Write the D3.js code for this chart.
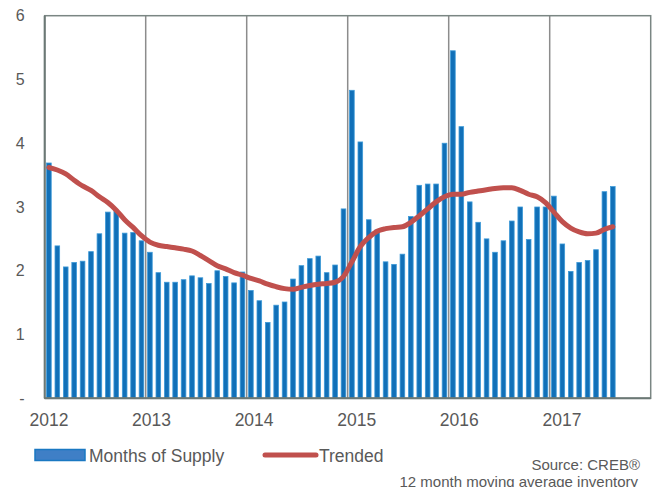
<!DOCTYPE html>
<html lang="en">

<head>
    <meta charset="utf-8">
    <script src="https://d3js.org/d3.v7.min.js"></script>
    <style>
        body {
            margin: 0;
            background: #fff;
            font-family: "Liberation Sans", Arial, sans-serif;
        }

        .axis text {
            fill: #595959;
        }
    </style>
</head>

<body>
    <div id="chart"></div>

    <script>
        // monthly data, Jan 2012 - Aug 2017
        var years = [2012, 2013, 2014, 2015, 2016, 2017];
        var yTicks = [0, 1, 2, 3, 4, 5, 6];

        var supply = [
            3.69, 2.39, 2.06, 2.13, 2.15, 2.30, 2.58, 2.92, 2.95, 2.59, 2.60, 2.47,
            2.29, 1.97, 1.82, 1.82, 1.86, 1.92, 1.89, 1.80, 2.00, 1.91, 1.81, 1.98,
            1.69, 1.53, 1.19, 1.46, 1.51, 1.87, 2.08, 2.19, 2.23, 1.97, 2.09, 2.97,
            4.83, 4.02, 2.80, 2.64, 2.14, 2.10, 2.26, 2.85, 3.34, 3.36, 3.36, 4.00,
            5.45, 4.26, 3.08, 2.76, 2.50, 2.29, 2.47, 2.78, 3.00, 2.49, 3.00, 3.00,
            3.17, 2.42, 1.99, 2.13, 2.16, 2.33, 3.24, 3.32
        ];

        var trended = [
            3.62, 3.58, 3.52, 3.42, 3.33, 3.26, 3.16, 3.07, 2.95, 2.80, 2.68, 2.55,
            2.45, 2.40, 2.38, 2.36, 2.34, 2.31, 2.24, 2.16, 2.08, 2.03, 1.97, 1.93,
            1.88, 1.84, 1.79, 1.75, 1.72, 1.71, 1.74, 1.77, 1.79, 1.80, 1.82, 1.91,
            2.14, 2.38, 2.52, 2.62, 2.66, 2.68, 2.69, 2.76, 2.86, 2.97, 3.08, 3.16,
            3.20, 3.20, 3.23, 3.25, 3.27, 3.29, 3.30, 3.30, 3.26, 3.20, 3.16, 3.07,
            2.92, 2.77, 2.67, 2.61, 2.58, 2.59, 2.65, 2.69
        ];

        var W = 655, H = 487;
        var margin = { top: 15.7, left: 44.7, right: 4.3, bottom: 88.7 },
            width = W - margin.left - margin.right,
            height = H - margin.top - margin.bottom;

        var svg = d3.select("#chart")
            .append("svg")
            .attr("width", W)
            .attr("height", H);

        var g = svg.append("g")
            .attr("transform", "translate(" + margin.left + "," + margin.top + ")");

        // one band per month for the six years shown
        var months = d3.range(years.length * 12);
        var x = d3.scaleBand()
            .domain(months)
            .range([0, width])
            .paddingInner(0.45)
            .paddingOuter(0.225);

        var y = d3.scaleLinear()
            .domain([0, 6])
            .range([height, 0]);

        // Y axis labels
        var yAxis = g.append("g")
            .attr("class", "axis")
            .call(d3.axisLeft(y)
                .tickValues(yTicks)
                .tickSize(0)
                .tickPadding(20)
                .tickFormat(function (d) { return d === 0 ? "-" : d; }));
        yAxis.select(".domain").remove();
        yAxis.selectAll("text")
            .style("font-size", "16px")
            .style("font-family", "'Liberation Sans', Arial, sans-serif");

        // year gridlines
        var yearX = function (i) { return x.step() * 12 * i; };
        g.selectAll(".yearline")
            .data(years.slice(1))
            .enter().append("line")
            .attr("x1", function (d, i) { return yearX(i + 1); })
            .attr("x2", function (d, i) { return yearX(i + 1); })
            .attr("y1", 0)
            .attr("y2", height)
            .attr("stroke", "#8c8c8c")
            .attr("stroke-width", 1.5);

        // bars
        g.selectAll(".bar")
            .data(supply)
            .enter().append("rect")
            .attr("x", function (d, i) { return x(i); })
            .attr("width", x.bandwidth())
            .attr("y", function (d) { return y(d); })
            .attr("height", function (d) { return height - y(d); })
            .attr("fill", "#1170b8")
            .attr("stroke", "#3d9ad8")
            .attr("stroke-width", 0.8);

        // frame
        g.append("rect")
            .attr("width", width)
            .attr("height", height)
            .attr("fill", "none")
            .attr("stroke", "#7a8683")
            .attr("stroke-width", 1.5);
        g.append("line")
            .attr("x1", 0).attr("x2", 0)
            .attr("y1", 0).attr("y2", height)
            .attr("stroke", "#6b7875").attr("stroke-width", 2);
        g.append("line")
            .attr("x1", 0).attr("x2", width)
            .attr("y1", height).attr("y2", height)
            .attr("stroke", "#6b7875").attr("stroke-width", 2);

        // trend line
        g.append("path")
            .datum(trended)
            .attr("fill", "none")
            .attr("stroke", "#c0504d")
            .attr("stroke-width", 5)
            .attr("stroke-linecap", "round")
            .attr("stroke-linejoin", "round")
            .attr("d", d3.line()
                .curve(d3.curveMonotoneX)
                .x(function (d, i) { return x(i) + x.bandwidth() / 2; })
                .y(function (d) { return y(d); }));

        // year labels
        svg.append("g")
            .attr("class", "axis")
            .selectAll("text")
            .data(years)
            .enter().append("text")
            .attr("x", function (d, i) { return margin.left + x(i * 12) + x.bandwidth() / 2 + i * 1.6; })
            .attr("y", 426)
            .attr("text-anchor", "middle")
            .style("font-size", "17.5px")
            .text(function (d) { return d; });

        // legend
        var legend = svg.append("g");
        legend.append("rect")
            .attr("x", 35).attr("y", 449.5)
            .attr("width", 50).attr("height", 11)
            .attr("fill", "#3f7fc6")
            .attr("stroke", "#1a78c2")
            .attr("stroke-width", 1.5);
        legend.append("text")
            .attr("x", 89).attr("y", 461.5)
            .attr("fill", "#595959")
            .style("font-size", "17.5px")
            .text("Months of Supply");
        legend.append("line")
            .attr("x1", 265).attr("x2", 316)
            .attr("y1", 455).attr("y2", 455)
            .attr("stroke", "#c0504d")
            .attr("stroke-width", 5)
            .attr("stroke-linecap", "round");
        legend.append("text")
            .attr("x", 319).attr("y", 461.5)
            .attr("fill", "#595959")
            .style("font-size", "17.5px")
            .text("Trended");

        // source note
        svg.append("text")
            .attr("x", 640).attr("y", 470)
            .attr("text-anchor", "end")
            .attr("fill", "#595959")
            .style("font-size", "15px")
            .text("Source: CREB®");
        svg.append("text")
            .attr("x", 638).attr("y", 487)
            .attr("text-anchor", "end")
            .attr("fill", "#595959")
            .style("font-size", "15px")
            .text("12 month moving average inventory");
    </script>
</body>

</html>
